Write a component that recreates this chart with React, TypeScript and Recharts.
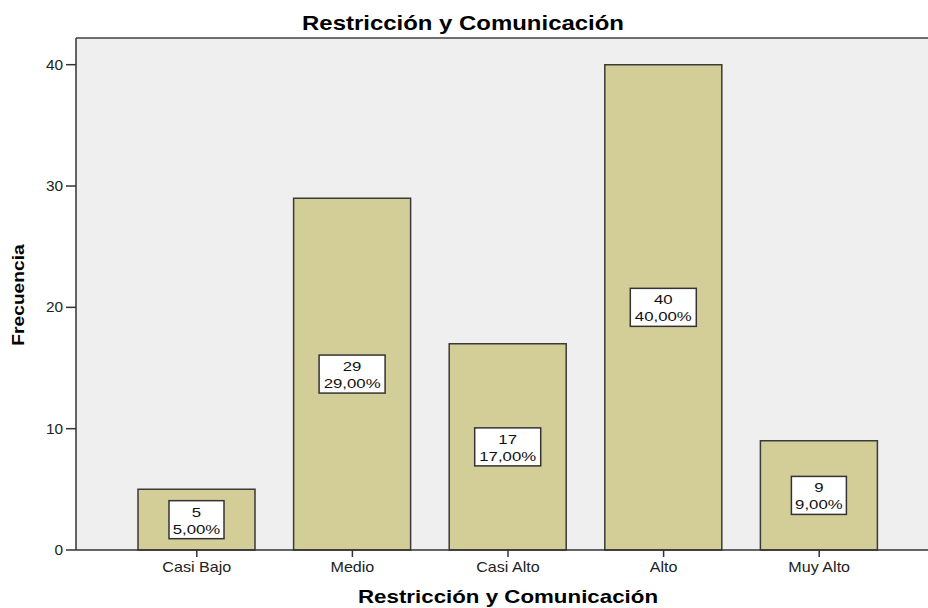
import { BarChart, Bar, XAxis, YAxis, CartesianGrid, LabelList, Label, ReferenceLine } from 'recharts';

const categories = ['Casi Bajo', 'Medio', 'Casi Alto', 'Alto', 'Muy Alto'];
const counts = [5, 29, 17, 40, 9];
const percents = [5, 29, 17, 40, 9];
const yTicks = [0, 10, 20, 30, 40];
const yMax = 42.2;

const title = 'Restricción y Comunicación';
const xTitle = 'Restricción y Comunicación';
const yTitle = 'Frecuencia';

const data = categories.map((name, i) => ({
  name,
  value: counts[i],
  label: `${counts[i]}|${percents[i].toFixed(2).replace('.', ',')}%`,
}));

const FONT = 'Arial, "Liberation Sans", sans-serif';

function XTick({ x, y, payload }: any) {
  return (
    <g transform={`translate(${x},${y}) scale(1.15,1)`}>
      <text x={0} y={13} textAnchor="middle" fontFamily={FONT} fontSize={14} fill="#222">
        {payload.value}
      </text>
    </g>
  );
}

function YTick({ x, y, payload }: any) {
  return (
    <g transform={`translate(${x},${y}) scale(1.1,1)`}>
      <text x={0} y={5} textAnchor="end" fontFamily={FONT} fontSize={14} fill="#222">
        {payload.value}
      </text>
    </g>
  );
}

function ValueBox({ x, y, width, height, value }: any) {
  const [n, p] = String(value).split('|');
  const cx = x + width / 2;
  const cy = y + height / 2;
  const w = p.length * 11;
  return (
    <g>
      <rect x={cx - w / 2} y={cy - 19} width={w} height={38} fill="#fff" stroke="#333" strokeWidth={1.5} />
      <g transform={`translate(${cx},${cy}) scale(1.4,1)`}>
        <text x={0} y={-3} textAnchor="middle" fontFamily={FONT} fontSize={12} fill="#111">{n}</text>
        <text x={0} y={14} textAnchor="middle" fontFamily={FONT} fontSize={12} fill="#111">{p}</text>
      </g>
    </g>
  );
}

function XTitle({ viewBox }: any) {
  const cx = viewBox.x + 43 + (viewBox.width - 74) / 2;
  return (
    <g transform={`translate(${cx},603) scale(1.24,1)`}>
      <text x={0} y={0} textAnchor="middle" fontFamily={FONT} fontSize={18} fontWeight="bold" fill="#000">
        {xTitle}
      </text>
    </g>
  );
}

function YTitle() {
  return (
    <g transform="translate(24,295) rotate(-90) scale(1.2,1)">
      <text x={0} y={0} textAnchor="middle" fontFamily={FONT} fontSize={16} fontWeight="bold" fill="#000">
        {yTitle}
      </text>
    </g>
  );
}

export default function App() {
  return (
    <div style={{ position: 'absolute', left: 0, top: 0, width: 928, height: 608, background: '#fff' }}>
      <div
        style={{
          position: 'absolute',
          left: 0,
          width: 928 - 2,
          top: 8,
          textAlign: 'center',
          fontFamily: FONT,
          fontSize: 21,
          fontWeight: 'bold',
          color: '#000',
          lineHeight: '30px',
          transform: 'scaleX(1.14)',
          transformOrigin: '463px 0',
        }}
      >
        {title}
      </div>
      <BarChart
        width={928}
        height={608}
        data={data}
        margin={{ top: 38, right: 0, bottom: 0, left: 0 }}
        barSize={117}
        style={{ position: 'absolute', left: 0, top: 0 }}
      >
        <CartesianGrid horizontal={false} vertical={false} fill="#efefef" />
        <ReferenceLine y={yMax} stroke="#6e6e6e" strokeWidth={2} />
        <XAxis
          dataKey="name"
          height={58}
          padding={{ left: 43, right: 31 }}
          tickSize={7}
          tickMargin={2}
          tick={<XTick />}
          axisLine={{ stroke: '#333', strokeWidth: 1.5 }}
          tickLine={{ stroke: '#333', strokeWidth: 1.5 }}
        >
          <Label content={<XTitle />} />
        </XAxis>
        <YAxis
          width={76}
          domain={[0, yMax]}
          ticks={yTicks}
          tickSize={10}
          tickMargin={3}
          tick={<YTick />}
          axisLine={{ stroke: '#333', strokeWidth: 1.5 }}
          tickLine={{ stroke: '#333', strokeWidth: 1.5 }}
        >
          <Label content={<YTitle />} />
        </YAxis>
        <Bar dataKey="value" fill="#d3ce98" stroke="#3a3a3a" strokeWidth={1.5} isAnimationActive={false}>
          <LabelList dataKey="label" content={<ValueBox />} />
        </Bar>
      </BarChart>
    </div>
  );
}
